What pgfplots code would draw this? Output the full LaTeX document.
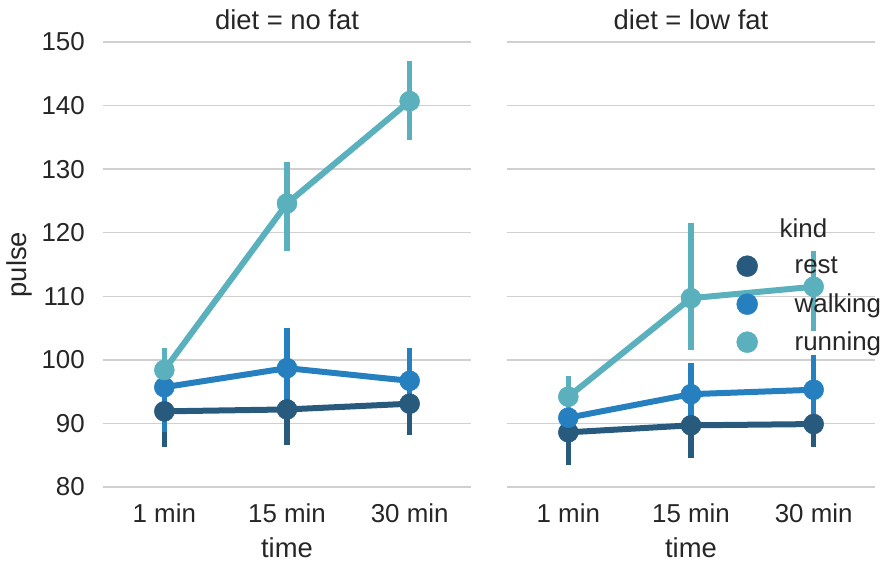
\documentclass[border=0pt]{standalone}
\usepackage{pgfplots}
\pgfplotsset{compat=1.18}
\usepackage{fontspec}
\setmainfont{Liberation Sans}
\definecolor{crest}{HTML}{285A7D}
\definecolor{cwalk}{HTML}{2680C0}
\definecolor{crun}{HTML}{5AB0BC}
\definecolor{gridgray}{HTML}{D0D0D0}
\definecolor{textgray}{HTML}{262626}
\newcommand\ft{\fontsize{26}{30}\selectfont}
\newcommand\fl{\fontsize{27.5}{32}\selectfont}

\pgfplotstableread{
x y ep em
0 91.9 5.6 5.6
1 92.2 5.4 5.6
2 93.1 4.9 4.9
}\nfrest
\pgfplotstableread{
x y ep em
0 95.7 5.3 7.0
1 98.7 6.3 7.1
2 96.7 5.1 5.1
}\nfwalk
\pgfplotstableread{
x y ep em
0 98.4 3.4 3.4
1 124.6 6.6 7.5
2 140.7 6.3 6.1
}\nfrun
\pgfplotstableread{
x y ep em
0 88.6 4.9 5.1
1 89.7 4.8 5.2
2 89.9 3.6 3.6
}\lfrest
\pgfplotstableread{
x y ep em
0 90.9 2.6 2.4
1 94.6 4.9 4.9
2 95.3 5.5 5.5
}\lfwalk
\pgfplotstableread{
x y ep em
0 94.2 3.2 3.7
1 109.7 11.8 8.1
2 111.5 5.6 7.0
}\lfrun

\pgfplotsset{
  facet/.style={
    scale only axis, width=368bp, height=445bp,
    xmin=-0.5, xmax=2.5, ymin=80, ymax=150,
    xtick={0,1,2}, xticklabels={1 min,15 min,30 min},
    ytick={80,90,...,150},
    ymajorgrids, grid style={line width=1.3bp, color=gridgray},
    axis line style={draw=none}, major tick length=0pt,
    tick label style={font=\ft, text=textgray},
    /pgf/number format/assume math mode=true,
    xticklabel style={anchor=center, yshift=-26bp, inner sep=0pt},
    yticklabel style={anchor=east, xshift=-18bp, inner sep=0pt},
    label style={font=\fl, text=textgray},
    xlabel={time},
    xlabel style={at={(axis description cs:0.5,0)}, anchor=center, yshift=-61bp},
    title style={at={(axis description cs:0.5,1)}, anchor=center, yshift=16bp, font=\fl, text=textgray},
    clip=false,
  },
  ser/.style={color=#1, line width=6bp, mark=*, mark size=10bp,
    mark options={solid, line width=0.5bp},
    error bars/y dir=both, error bars/y explicit, error bars/error mark=none,
    error bars/error bar style={line width=5.5bp, color=#1}},
}

\begin{document}
\begin{tikzpicture}
\path[use as bounding box] (0,0) rectangle (889bp,563bp);

\begin{axis}[facet, at={(103bp,76bp)}, anchor=south west,
  title={diet = no fat},
  ylabel={pulse},
  ylabel style={at={(axis description cs:-0.226,0.5)}, anchor=center}]
\addplot[ser=crest] table[x=x, y=y, y error plus=ep, y error minus=em] {\nfrest};
\addplot[ser=cwalk] table[x=x, y=y, y error plus=ep, y error minus=em] {\nfwalk};
\addplot[ser=crun] table[x=x, y=y, y error plus=ep, y error minus=em] {\nfrun};
\end{axis}

\begin{axis}[facet, at={(507bp,76bp)}, anchor=south west,
  title={diet = low fat},
  yticklabels={},
  legend style={draw=none, fill=none, inner sep=0pt, font=\ft, text=textgray,
    at={(0.6236,0.604)}, anchor=north west, row sep=17bp,
    nodes={inner sep=0pt},
    /tikz/every odd column/.append style={column sep=22bp}},
  legend cell align=left]
\addplot[forget plot, ser=crest] table[x=x, y=y, y error plus=ep, y error minus=em] {\lfrest};
\addplot[forget plot, ser=cwalk] table[x=x, y=y, y error plus=ep, y error minus=em] {\lfwalk};
\addplot[forget plot, ser=crun] table[x=x, y=y, y error plus=ep, y error minus=em] {\lfrun};
\addlegendimage{empty legend}
\addlegendentry[xshift=-15bp]{kind}
\addlegendimage{only marks, mark=*, mark size=10.5bp, color=crest}
\addlegendentry{rest}
\addlegendimage{only marks, mark=*, mark size=10.5bp, color=cwalk}
\addlegendentry{walking}
\addlegendimage{only marks, mark=*, mark size=10.5bp, color=crun}
\addlegendentry{running}
\end{axis}
\end{tikzpicture}
\end{document}
